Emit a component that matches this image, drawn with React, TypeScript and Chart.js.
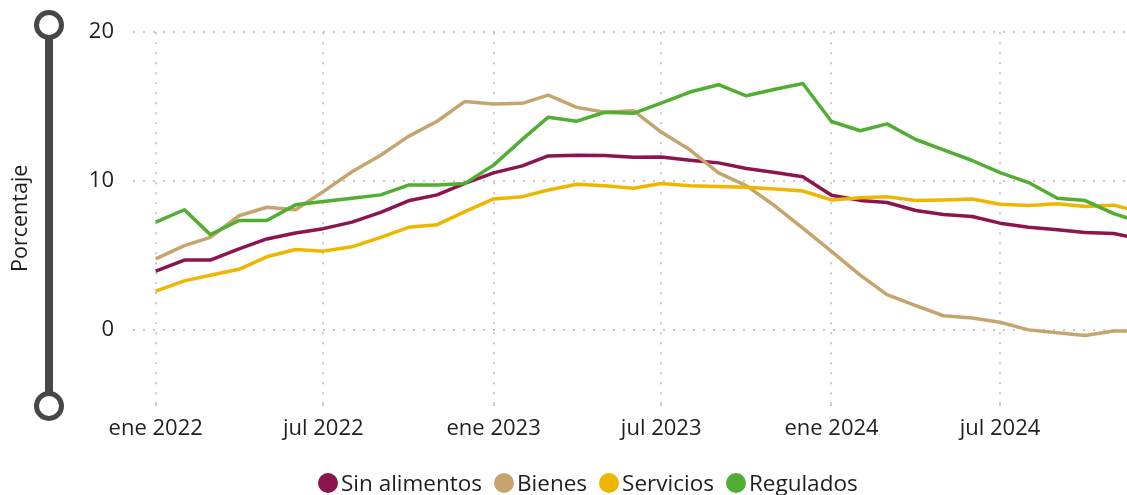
import React, { useEffect, useRef } from "react";
import { Chart, registerables } from "chart.js";

Chart.register(...registerables);

const months = [
  "2022-01", "2022-02", "2022-03", "2022-04", "2022-05", "2022-06",
  "2022-07", "2022-08", "2022-09", "2022-10", "2022-11", "2022-12",
  "2023-01", "2023-02", "2023-03", "2023-04", "2023-05", "2023-06",
  "2023-07", "2023-08", "2023-09", "2023-10", "2023-11", "2023-12",
  "2024-01", "2024-02", "2024-03", "2024-04", "2024-05", "2024-06",
  "2024-07", "2024-08", "2024-09", "2024-10", "2024-11", "2024-12",
];

const sinAlimentos = [
  3.95, 4.69, 4.69, 5.44, 6.11, 6.51, 6.8, 7.24, 7.89, 8.67, 9.07, 9.84,
  10.55, 11.02, 11.69, 11.73, 11.71, 11.6, 11.62, 11.4, 11.22, 10.84, 10.58, 10.29,
  9.05, 8.7, 8.56, 8.02, 7.75, 7.62, 7.17, 6.89, 6.72, 6.55, 6.47, 6.1,
];

const bienes = [
  4.77, 5.66, 6.22, 7.67, 8.24, 8.07, 9.29, 10.62, 11.73, 13.0, 14.02, 15.35,
  15.18, 15.22, 15.77, 14.95, 14.62, 14.73, 13.29, 12.1, 10.55, 9.69, 8.32, 6.84,
  5.27, 3.68, 2.37, 1.63, 0.95, 0.8, 0.51, 0.0, -0.2, -0.38, -0.08, -0.08,
];

const servicios = [
  2.6, 3.29, 3.67, 4.07, 4.91, 5.4, 5.29, 5.58, 6.22, 6.89, 7.07, 7.95,
  8.8, 8.95, 9.4, 9.78, 9.69, 9.51, 9.84, 9.69, 9.64, 9.58, 9.47, 9.33,
  8.73, 8.87, 8.95, 8.69, 8.73, 8.79, 8.44, 8.35, 8.47, 8.29, 8.38, 7.9,
];

const regulados = [
  7.24, 8.07, 6.4, 7.35, 7.35, 8.4, 8.62, 8.84, 9.07, 9.73, 9.73, 9.84,
  11.07, 12.8, 14.29, 14.02, 14.62, 14.55, 15.24, 15.98, 16.47, 15.73, 16.17, 16.55,
  14.0, 13.38, 13.84, 12.79, 12.1, 11.38, 10.57, 9.9, 8.84, 8.69, 7.81, 7.2,
];

const seriesNames = ["Sin alimentos", "Bienes", "Servicios", "Regulados"];
const seriesColors = ["#8C1550", "#C6A46E", "#EFB600", "#52AE32"];

const xTickMonths = ["2022-01", "2022-07", "2023-01", "2023-07", "2024-01", "2024-07"];
const xTickLabels = ["ene 2022", "jul 2022", "ene 2023", "jul 2023", "ene 2024", "jul 2024"];
const yTickValues = [0, 10, 20];

const FONT = "'Open Sans', 'Noto Sans', sans-serif";
const TEXT = "#1f1f1f";
const GRID = "#c8c8c8";

function dayIndex(m: string): number {
  const [y, mo] = m.split("-").map(Number);
  return (Date.UTC(y, mo - 1, 1) - Date.UTC(2022, 0, 1)) / 86400000;
}

export default function App() {
  const ref = useRef<HTMLCanvasElement | null>(null);

  useEffect(() => {
    if (!ref.current) return;
    const allSeries = [sinAlimentos, bienes, servicios, regulados];
    const chart = new Chart(ref.current, {
      type: "line",
      data: {
        datasets: allSeries.map((vals, i) => ({
          label: seriesNames[i],
          data: vals.map((v, j) => ({ x: dayIndex(months[j]), y: v })),
          borderColor: seriesColors[i],
          backgroundColor: seriesColors[i],
          borderWidth: 3.5,
          pointRadius: 0,
          tension: 0,
          order: 3 - i,
          borderJoinStyle: "round",
        })),
      },
      options: {
        responsive: false,
        animation: false,
        layout: { padding: { left: 0, right: 0, top: 29.3, bottom: 40.7 } },
        plugins: {
          legend: { display: false },
          tooltip: { enabled: false },
        },
        scales: {
          x: {
            type: "linear",
            min: -24.52,
            max: 1049.2,
            border: { display: false, dash: [2, 8] },
            grid: {
              color: GRID,
              lineWidth: 2,
              drawTicks: true,
              tickLength: 6,
              tickColor: GRID,
              tickBorderDash: [2, 8],
            },
            ticks: {
              autoSkip: false,
              maxRotation: 0,
              padding: 5,
              color: TEXT,
              font: { family: FONT, size: 22 },
              callback: (v: any) => {
                const idx = xTickMonths.findIndex((m) => dayIndex(m) === Number(v));
                return idx >= 0 ? xTickLabels[idx] : "";
              },
            },
            afterBuildTicks: (scale: any) => {
              scale.ticks = xTickMonths.map((m) => ({ value: dayIndex(m) }));
            },
            afterFit: (scale: any) => {
              scale.height = 50;
            },
          },
          y: {
            type: "linear",
            min: -5,
            max: 20,
            border: { display: false, dash: [2, 8] },
            grid: {
              color: GRID,
              lineWidth: 2,
              drawTicks: false,
            },
            ticks: {
              padding: 19,
              color: TEXT,
              font: { family: FONT, size: 22 },
            },
            title: {
              display: true,
              text: "Porcentaje",
              color: TEXT,
              font: { family: FONT, size: 21.5 },
              padding: { top: 8, bottom: 0 },
            },
            afterBuildTicks: (scale: any) => {
              scale.ticks = yTickValues.map((v) => ({ value: v }));
            },
            afterFit: (scale: any) => {
              scale.width = 133;
            },
          },
        },
      },
    } as any);
    return () => chart.destroy();
  }, []);

  const legendItems = seriesNames.map((n, i) => (
    <div key={n} style={{ display: "flex", alignItems: "center", marginRight: 12 }}>
      <span
        style={{
          display: "inline-block",
          width: 20,
          height: 20,
          borderRadius: "50%",
          background: seriesColors[i],
          marginRight: 3,
        }}
      />
      <span>{n}</span>
    </div>
  ));

  return (
    <div
      style={{
        position: "absolute",
        left: 0,
        top: 0,
        width: 1127,
        height: 495,
        overflow: "hidden",
        background: "#fff",
      }}
    >
      <canvas ref={ref} width={1127} height={495} style={{ position: "absolute", left: 0, top: 0 }} />
      <div
        style={{
          position: "absolute",
          left: 45,
          top: 25,
          width: 8,
          height: 381,
          background: "#474747",
        }}
      />
      {[25, 406].map((cy) => (
        <div
          key={cy}
          style={{
            position: "absolute",
            left: 49 - 15,
            top: cy - 15,
            width: 30,
            height: 30,
            boxSizing: "border-box",
            border: "5px solid #474747",
            borderRadius: "50%",
            background: "#fff",
          }}
        />
      ))}
      <div
        style={{
          position: "absolute",
          left: 318,
          top: 470,
          display: "flex",
          alignItems: "center",
          fontFamily: FONT,
          fontSize: 22.5,
          color: TEXT,
          whiteSpace: "nowrap",
          lineHeight: "26px",
        }}
      >
        {legendItems}
      </div>
    </div>
  );
}
